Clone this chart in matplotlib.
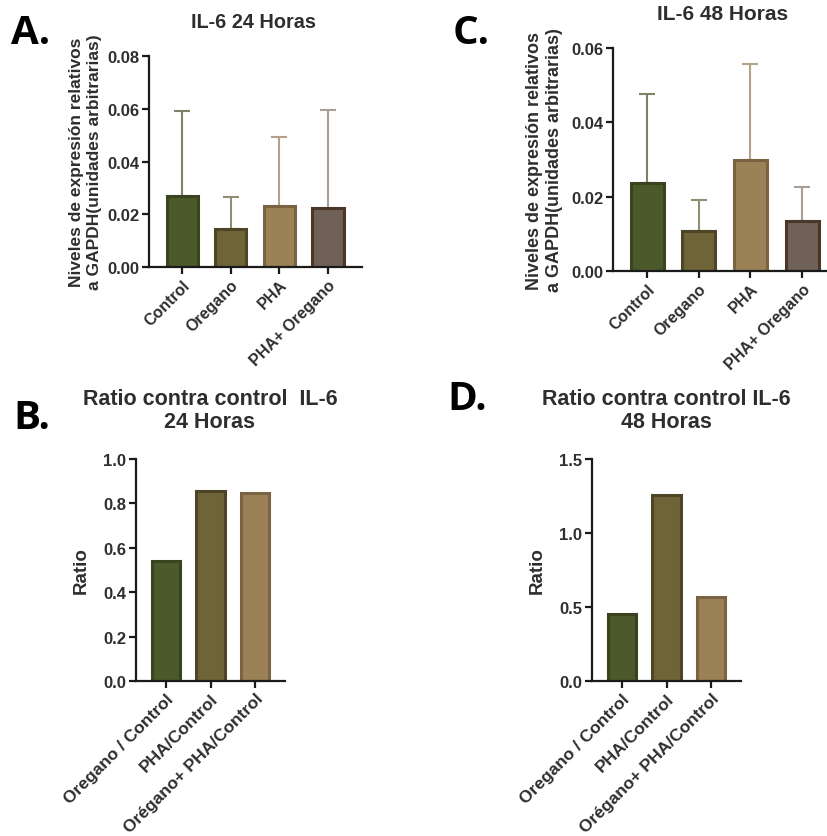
import matplotlib.pyplot as plt
import numpy as np

plt.rcParams['font.family'] = ['Liberation Sans', 'DejaVu Sans']

# data
grupos = ['Control', 'Oregano', 'PHA', 'PHA+ Oregano']
il6_24 = [0.0268, 0.0143, 0.0230, 0.0225]
il6_24_err = [0.0322, 0.0122, 0.0263, 0.0370]
il6_48 = [0.0236, 0.0108, 0.0298, 0.0134]
il6_48_err = [0.0239, 0.0082, 0.0260, 0.0092]

ratios = ['Oregano / Control', 'PHA/Control', 'Orégano+ PHA/Control']
ratio_24 = [0.54, 0.858, 0.845]
ratio_48 = [0.455, 1.26, 0.57]

fill4 = ['#4c5a2b', '#6f6437', '#9b8256', '#6f6157']
edge4 = ['#39431f', '#4d4525', '#7a6242', '#4b3627']
err4 = ['#7f8064', '#908d70', '#b3a189', '#aa9d94']

W, H = 827, 837
fig = plt.figure(figsize=(W / 100, H / 100), dpi=100)


def box(l, r, t, b):
    return [l / W, 1 - b / H, (r - l) / W, (b - t) / H]


def style(ax, ticks, fmt):
    for s in ['top', 'right']:
        ax.spines[s].set_visible(False)
    for s in ['left', 'bottom']:
        ax.spines[s].set_linewidth(1.6)
        ax.spines[s].set_color('#1a1a1a')
    ax.tick_params(width=1.6, length=5, color='#1a1a1a', labelsize=12, pad=2)
    ax.set_yticks(ticks)
    ax.set_yticklabels([fmt.format(t) for t in ticks], fontweight='bold', color='#2e2e2e')
    ax.set_ylim(ticks[0], ticks[-1])


def expr_panel(ax, vals, errs, ticks, xr, ylsize, ylpad):
    x = np.arange(len(grupos))
    for i in x:
        ax.errorbar(i, vals[i], yerr=[[0], [errs[i]]], color=err4[i], capsize=6,
                    elinewidth=1.5, capthick=1.5, zorder=1)
    ax.bar(x, vals, width=0.64, color=fill4, edgecolor=edge4, linewidth=2.2, zorder=2)
    style(ax, ticks, '{:.2f}')
    ax.set_xlim(*xr)
    ax.set_xticks(x)
    ax.set_xticklabels(grupos, rotation=45, ha='right', rotation_mode='anchor',
                       fontweight='bold', fontsize=11.5, color='#2e2e2e')
    ax.set_ylabel('Niveles de expresión relativos\na GAPDH(unidades arbitrarias)',
                  fontweight='bold', fontsize=ylsize, color='#2e2e2e', labelpad=ylpad,
                  linespacing=1.2)


def ratio_panel(ax, vals, ticks):
    x = np.arange(len(ratios))
    ax.bar(x, vals, width=0.64, color=fill4[:3], edgecolor=edge4[:3], linewidth=2.2)
    style(ax, ticks, '{:.1f}')
    ax.set_xlim(-0.67, 2.67)
    ax.set_xticks(x)
    ax.set_xticklabels(ratios, rotation=45, ha='right', rotation_mode='anchor',
                       fontweight='bold', fontsize=12.5, color='#2e2e2e')
    ax.set_ylabel('Ratio', fontweight='bold', fontsize=13.5, color='#2e2e2e', labelpad=10)


axA = fig.add_axes(box(149, 362, 57, 268))
expr_panel(axA, il6_24, il6_24_err, [0, 0.02, 0.04, 0.06, 0.08], (-0.68, 3.70), 12.5, 4)
axC = fig.add_axes(box(613, 827, 49, 272))
expr_panel(axC, il6_48, il6_48_err, [0, 0.02, 0.04, 0.06], (-0.66, 3.48), 13, 6)
axB = fig.add_axes(box(136, 285, 460, 682))
ratio_panel(axB, ratio_24, [0, 0.2, 0.4, 0.6, 0.8, 1.0])
axD = fig.add_axes(box(592, 741, 460, 682))
ratio_panel(axD, ratio_48, [0, 0.5, 1.0, 1.5])


def ftext(px, py, s, **kw):
    fig.text(px / W, 1 - py / H, s, **kw)


tkw = dict(fontweight='bold', color='#2e2e2e', ha='center', va='center')
ftext(254, 22, 'IL-6 24 Horas', fontsize=14.3, **tkw)
ftext(723, 14, 'IL-6 48 Horas', fontsize=15, **tkw)
ftext(210, 411, 'Ratio contra control  IL-6\n24 Horas', fontsize=15.5, linespacing=1.12, **tkw)
ftext(666, 411, 'Ratio contra control IL-6\n48 Horas', fontsize=15.5, linespacing=1.12, **tkw)

lkw = dict(fontweight='bold', fontsize=29, color='black', ha='left', va='center',
           family=['Open Sans', 'DejaVu Sans'])
ftext(11, 34, 'A.', **lkw)
ftext(453, 34, 'C.', **lkw)
ftext(13, 419, 'B.', **lkw)
ftext(447, 400, 'D.', **lkw)

fig.savefig('out.png', dpi=100)
